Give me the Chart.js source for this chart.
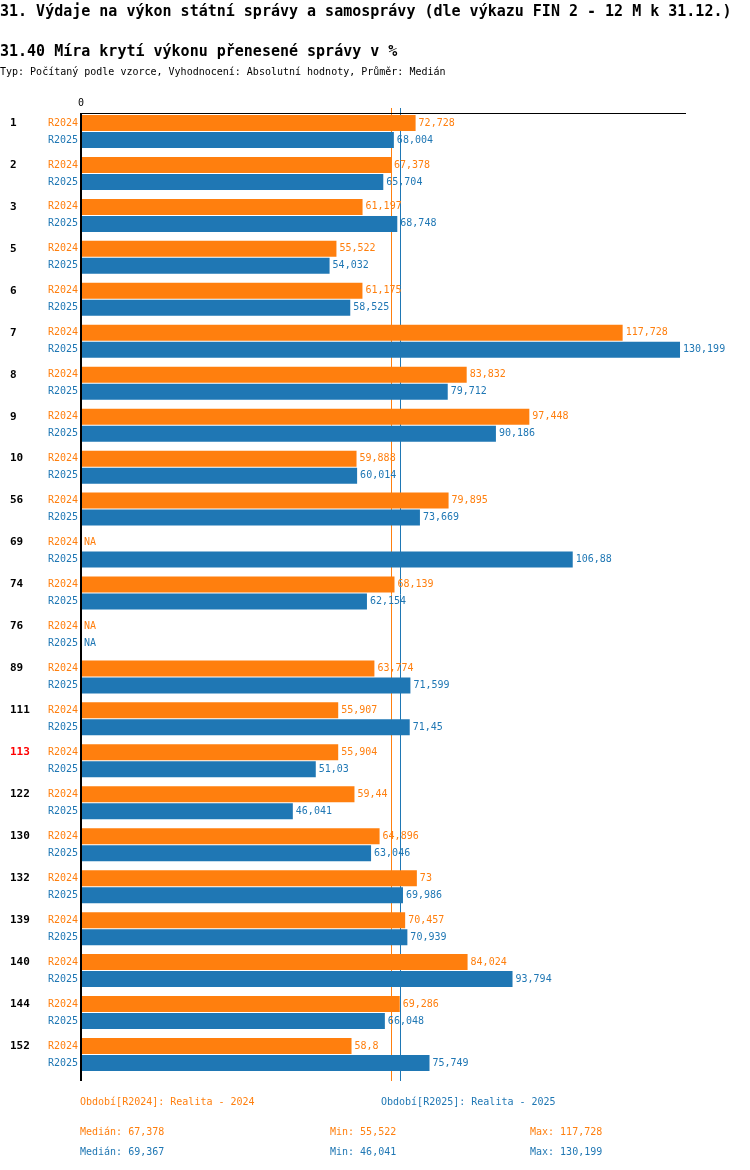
<!DOCTYPE html>
<html>
<head>
<meta charset="utf-8">
<script src="https://cdn.jsdelivr.net/npm/chart.js@4.4.1/dist/chart.umd.min.js"></script>
<style>
  html, body { margin: 0; padding: 0; background: #fff; }
  body { width: 750px; height: 1170px; position: relative; overflow: hidden; font-family: "DejaVu Sans Mono", monospace; }
  .t { position: absolute; white-space: pre; line-height: 1; }
  #c { position: absolute; left: 0; top: 0; }
</style>
</head>
<body>
<canvas id="c" width="750" height="1170"></canvas>
<div class="t" style="left:0;top:4px;font-size:15px;font-weight:bold;color:#000">31. Výdaje na výkon státní správy a samosprávy (dle výkazu FIN 2 - 12 M k 31.12.)</div>
<div class="t" style="left:0;top:44px;font-size:15px;font-weight:bold;color:#000">31.40 Míra krytí výkonu přenesené správy v %</div>
<div class="t" style="left:0;top:67px;font-size:10px;color:#000">Typ: Počítaný podle vzorce, Vyhodnocení: Absolutní hodnoty, Průměr: Medián</div>

<div class="t" style="left:80px;top:1097px;font-size:10px;color:#ff7f0e">Období[R2024]: Realita - 2024</div>
<div class="t" style="left:381px;top:1097px;font-size:10px;color:#1f77b4">Období[R2025]: Realita - 2025</div>
<div class="t" style="left:80px;top:1127px;font-size:10px;color:#ff7f0e">Medián: 67,378</div>
<div class="t" style="left:330px;top:1127px;font-size:10px;color:#ff7f0e">Min: 55,522</div>
<div class="t" style="left:530px;top:1127px;font-size:10px;color:#ff7f0e">Max: 117,728</div>
<div class="t" style="left:80px;top:1147px;font-size:10px;color:#1f77b4">Medián: 69,367</div>
<div class="t" style="left:330px;top:1147px;font-size:10px;color:#1f77b4">Min: 46,041</div>
<div class="t" style="left:530px;top:1147px;font-size:10px;color:#1f77b4">Max: 130,199</div>

<script>
const categories = ['1','2','3','5','6','7','8','9','10','56','69','74','76','89','111','113','122','130','132','139','140','144','152'];
const highlighted = ['113'];
const seriesNames = ['R2024', 'R2025'];
const r2024 = [72.728, 67.378, 61.197, 55.522, 61.175, 117.728, 83.832, 97.448, 59.888, 79.895, null, 68.139, null, 63.774, 55.907, 55.904, 59.44, 64.896, 73, 70.457, 84.024, 69.286, 58.8];
const r2025 = [68.004, 65.704, 68.748, 54.032, 58.525, 130.199, 79.712, 90.186, 60.014, 73.669, 106.88, 62.154, null, 71.599, 71.45, 51.03, 46.041, 63.046, 69.986, 70.939, 93.794, 66.048, 75.749];
const medians = [67.378, 69.367];
const xTicks = [0];

const COLORS = ['#ff7f0e', '#1f77b4'];
const FONT = '"DejaVu Sans Mono", monospace';
const fmt = v => String(v).replace('.', ',');

const overlay = {
  id: 'overlay',
  beforeDatasetsDraw(chart) {
    const ctx = chart.ctx, x = chart.scales.x;
    ctx.save();
    ctx.lineWidth = 1;
    medians.forEach((m, i) => {
      const px = Math.round(x.getPixelForValue(m)) + 0.5;
      ctx.strokeStyle = COLORS[i];
      ctx.beginPath();
      ctx.moveTo(px, 108);
      ctx.lineTo(px, 1081);
      ctx.stroke();
    });
    ctx.restore();
  },
  afterDatasetsDraw(chart) {
    const ctx = chart.ctx, x = chart.scales.x;
    const x0 = x.getPixelForValue(0);
    ctx.save();
    // axis lines
    ctx.strokeStyle = '#000';
    ctx.lineWidth = 1;
    ctx.beginPath();
    ctx.moveTo(80, 113.5);
    ctx.lineTo(x.right, 113.5);
    ctx.stroke();
    ctx.lineWidth = 2;
    ctx.beginPath();
    ctx.moveTo(x0, 113);
    ctx.lineTo(x0, 1081);
    ctx.stroke();
    // tick labels
    ctx.fillStyle = '#000';
    ctx.font = '10px ' + FONT;
    ctx.textAlign = 'center';
    ctx.textBaseline = 'middle';
    xTicks.forEach(t => ctx.fillText(String(t), x.getPixelForValue(t), 103));
    // labels
    chart.data.datasets.forEach((ds, di) => {
      const meta = chart.getDatasetMeta(di);
      meta.data.forEach((bar, i) => {
        const y = bar.y;
        if (di === 0) {
          ctx.font = 'bold 11px ' + FONT;
          ctx.textAlign = 'left';
          ctx.fillStyle = highlighted.includes(categories[i]) ? '#ff0000' : '#000';
          ctx.fillText(categories[i], 10, y);
        }
        ctx.font = '10px ' + FONT;
        ctx.textAlign = 'right';
        ctx.fillStyle = COLORS[di];
        ctx.fillText(seriesNames[di], 78, y);
        ctx.textAlign = 'left';
        const v = ds.data[i];
        if (v === null || v === undefined) {
          ctx.fillText('NA', x0 + 3, y);
        } else {
          ctx.fillText(fmt(v), x.getPixelForValue(v) + 3, y);
        }
      });
    });
    ctx.restore();
  }
};

new Chart(document.getElementById('c'), {
  type: 'bar',
  data: {
    labels: categories,
    datasets: [
      { label: seriesNames[0], data: r2024, backgroundColor: COLORS[0], borderWidth: 0 },
      { label: seriesNames[1], data: r2025, backgroundColor: COLORS[1], borderWidth: 0 }
    ]
  },
  options: {
    indexAxis: 'y',
    responsive: false,
    animation: false,
    devicePixelRatio: 1,
    categoryPercentage: 0.8105,
    barPercentage: 0.941,
    layout: { padding: { left: 81, right: 64, top: 110.5, bottom: 94.5 } },
    plugins: { legend: { display: false }, tooltip: { enabled: false }, title: { display: false } },
    scales: {
      x: { display: false, min: 0, max: 131.5 },
      y: { display: false }
    }
  },
  plugins: [overlay]
});
</script>
</body>
</html>
